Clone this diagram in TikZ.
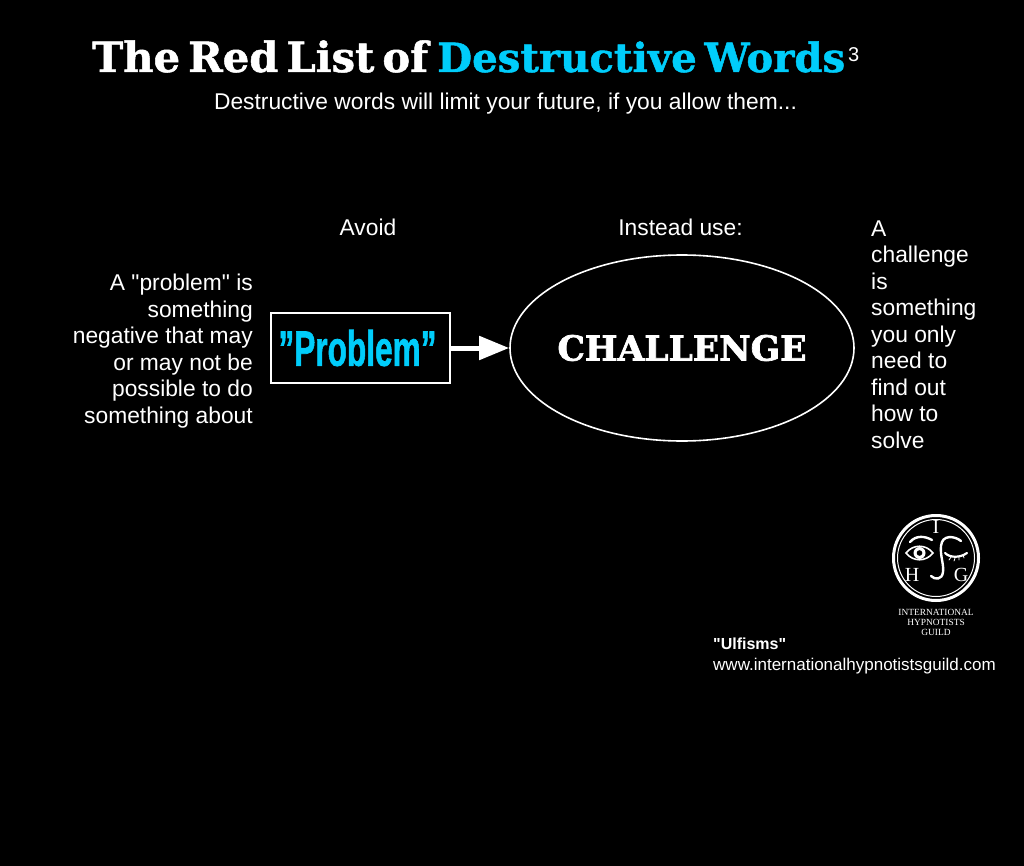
\documentclass[tikz,border=0pt]{standalone}
\usepackage{fontspec}
\usepackage{graphicx}
\setmainfont{Liberation Sans}[Ligatures=TeXOff]
\newfontfamily\slabfont{DejaVu Serif}[UprightFont=* Bold,FakeBold=1.2,WordSpace=0.55]
\newfontfamily\stencilfont{DejaVu Serif}[UprightFont=* Bold,FakeBold=2]
\newfontfamily\heavyfont{Liberation Sans}[UprightFont=* Bold,FakeBold=1.5]
\newfontfamily\logofont{Liberation Serif}
\usetikzlibrary{arrows.meta,shapes.geometric}
\definecolor{wordcyan}{HTML}{00CDFB}
\tikzset{
	bodytext/.style={text=white,inner sep=0pt,font=\fontsize{22.8}{26.5}\selectfont},
	titletext/.style={inner sep=0pt,anchor=base west,font=\slabfont\fontsize{39}{39}\selectfont},
	logotext/.style={text=white,inner sep=0pt,font=\logofont\fontsize{20}{20}\selectfont},
	logosmall/.style={text=white,inner sep=0pt,font=\logofont\fontsize{9.4}{10}\selectfont,align=center},
	logoline/.style={white,line width=1.6pt,line cap=round}
}
\begin{document}
\begin{tikzpicture}[x=1pt,y=-1pt]
		\fill[black] (0,0) rectangle (1024,866);
		\useasboundingbox (0,0) rectangle (1024,866);
		% title
		\node[titletext,text=white] (titleA) at (92,72) {\resizebox{336pt}{!}{The Red List of}};
		\node[titletext,text=wordcyan] (titleB) at (437,72) {\resizebox{408pt}{!}{Destructive Words}};
		\node[bodytext,font=\fontsize{20}{20}\selectfont,anchor=base west] (titleC) at (848,62) {3};
		\node[bodytext,anchor=base] (subtitle) at (505.5,110) {Destructive words will limit your future, if you allow them...};
		% headings
		\node[bodytext,anchor=base] (avoid) at (368,236) {Avoid};
		\node[bodytext,anchor=base] (instead) at (680.5,236) {Instead use:};
		% main row
		\node[draw=white,line width=1.6pt,minimum width=179pt,minimum height=70pt,inner sep=0pt,text=wordcyan] (problem) at (360.5,348)
			{\resizebox{158pt}{36pt}{\heavyfont\fontsize{46}{46}\selectfont ”Problem”}\rule{6pt}{0pt}};
		\node[draw=white,line width=1.6pt,ellipse,minimum width=344pt,minimum height=186pt,inner sep=0pt,text=white] (challenge) at (682,348)
			{\makebox[0pt]{\resizebox{249pt}{!}{\stencilfont\fontsize{34}{34}\selectfont CHALLENGE}}};
		\draw[white,line width=5pt,-{Triangle[length=30pt,width=23pt]}] (problem) -- (challenge);
		\node[bodytext,align=right,anchor=base east] (problemtext) at (253,423)
			{A "problem" is\\something\\negative that may\\or may not be\\possible to do\\something about};
		\node[bodytext,align=left,anchor=base west] (challengetext) at (871,448)
			{A\\challenge\\is\\something\\you only\\need to\\find out\\how to\\solve};
		% logo
		\node[draw=white,circle,line width=3pt,minimum size=85pt,inner sep=0pt] (logo) at (936,558) {};
		\node[draw=white,circle,line width=1pt,minimum size=77pt,inner sep=0pt] (logoin) at (936,558) {};
		\node[logotext] (logoI) at (936,527) {I};
		\node[logotext] (logoH) at (912,575) {H};
		\node[logotext] (logoG) at (961,575) {G};
		\draw[logoline] (906,553) .. controls (913,544) and (926,544) .. (933,553) .. controls (926,562) and (913,562) .. (906,553) -- cycle;
		\fill[white] (919.5,553) circle (6pt);
		\fill[black] (919.5,553) circle (2.8pt);
		\draw[logoline,line width=2.4pt] (910,542) .. controls (916,535) and (925,536) .. (932,540);
		\draw[logoline,line width=2.2pt] (945,553) .. controls (950,558) and (960,558) .. (967,553);
		\draw[logoline,line width=0.8pt] (951,557) -- (949,560) (955,558) -- (954,561) (959,557) -- (959,560) (963,555) -- (964,558);
		\draw[logoline,line width=2.4pt] (961,541) .. controls (955,536) and (942,534) .. (941,546) .. controls (940,556) and (944,564) .. (943,572) .. controls (942,580) and (935,580) .. (931,576);
		\node[logosmall] (logotext) at (936,622) {INTERNATIONAL\\HYPNOTISTS\\GUILD};
		% footer
		\node[bodytext,font=\bfseries\fontsize{16}{16}\selectfont,anchor=base west] (ulfisms) at (713,649) {"Ulfisms"};
		\node[bodytext,font=\fontsize{17}{17}\selectfont,anchor=base west] (website) at (713,670) {www.internationalhypnotistsguild.com};
\end{tikzpicture}
\end{document}
